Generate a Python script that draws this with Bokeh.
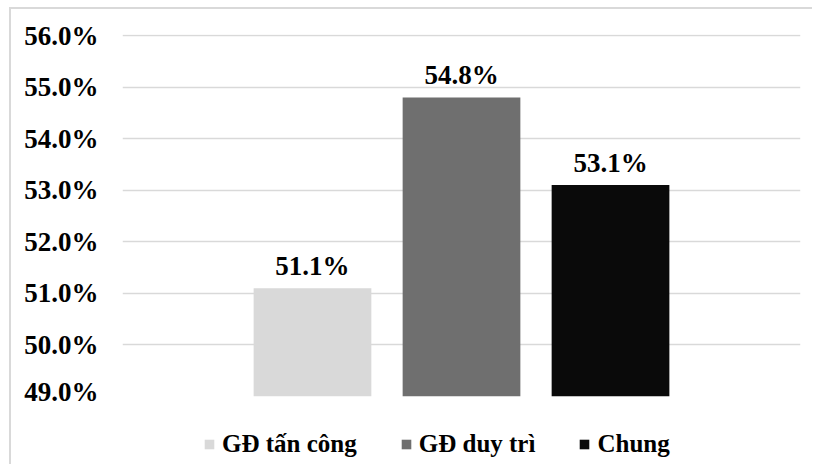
from bokeh.plotting import figure
from bokeh.layouts import column
from bokeh.models import ColumnDataSource, Range1d, FixedTicker, NumeralTickFormatter, Legend, LegendItem
from bokeh.core.properties import value
from bokeh.embed import file_html
from bokeh.resources import INLINE

categories = ["GĐ tấn công", "GĐ duy trì", "Chung"]
values = [0.511, 0.548, 0.531]
colors = ["#d9d9d9", "#6f6f6f", "#0a0a0a"]
positions = [-1, 0, 1]
y_ticks = [0.49, 0.50, 0.51, 0.52, 0.53, 0.54, 0.55, 0.56]

labels = [f"{v*100:.1f}%" for v in values]
source = ColumnDataSource(dict(x=positions, top=values, color=colors, name=categories, label=labels))

FONT = "Liberation Serif"
W = 803

p = figure(width=W, height=397, output_backend="svg", toolbar_location=None,
           x_range=Range1d(-2.275, 2.275), y_range=Range1d(0.49, 0.5602),
           min_border_left=111, min_border_right=14, min_border_top=25, min_border_bottom=10)

r = p.vbar(x="x", top="top", bottom=0.49, width=0.79, color="color", source=source, line_color=None)
p.text(x="x", y="top", text="label", source=source, text_align="center", text_baseline="alphabetic",
       y_offset=-22, text_font=value(FONT), text_font_size="27px", text_font_style="bold", text_color="#000000")

p.xaxis.visible = False
p.xgrid.grid_line_color = None
p.ygrid.grid_line_color = "#d9d9d9"
p.ygrid.grid_line_width = 1.5
p.yaxis.ticker = FixedTicker(ticks=y_ticks)
p.yaxis.formatter = NumeralTickFormatter(format="0.0%")
p.yaxis.axis_line_color = None
p.yaxis.major_tick_line_color = None
p.yaxis.minor_tick_line_color = None
p.yaxis.major_tick_out = 0
p.yaxis.major_label_standoff = 24
p.yaxis.major_label_text_font = FONT
p.yaxis.major_label_text_font_size = "27px"
p.yaxis.major_label_text_font_style = "bold"
p.yaxis.major_label_text_color = "#000000"
p.outline_line_color = None

# legend panel as a separate figure below the chart (its bars are kept out of view)
lf = figure(width=W, height=60, output_backend="svg", toolbar_location=None,
            x_range=Range1d(-2.275, 2.275), y_range=Range1d(10, 11),
            min_border_left=0, min_border_right=0, min_border_top=0, min_border_bottom=0)
lf.axis.visible = False
lf.grid.grid_line_color = None
lf.outline_line_color = None
lr = lf.vbar(x="x", top="top", bottom=0.49, width=0.79, color="color", source=source, line_color=None)

legend = Legend(items=[LegendItem(label=categories[i], renderers=[lr], index=i) for i in range(3)],
                orientation="horizontal", location=(81, 8))
legend.label_text_font = FONT
legend.label_text_font_size = "25px"
legend.label_text_font_style = "bold"
legend.label_text_color = "#000000"
legend.glyph_width = 12
legend.glyph_height = 12
legend.label_standoff = 7
legend.spacing = 43
legend.border_line_color = None
legend.background_fill_alpha = 0
legend.padding = 0
legend.margin = 0
lf.add_layout(legend, "center")

layout = column(p, lf, spacing=0,
                styles={"margin-left": "11px", "margin-top": "9px",
                        "box-shadow": "-2px -2px 0 0 #d9d9d9"})

open("out.html", "w").write(file_html(layout, INLINE))
